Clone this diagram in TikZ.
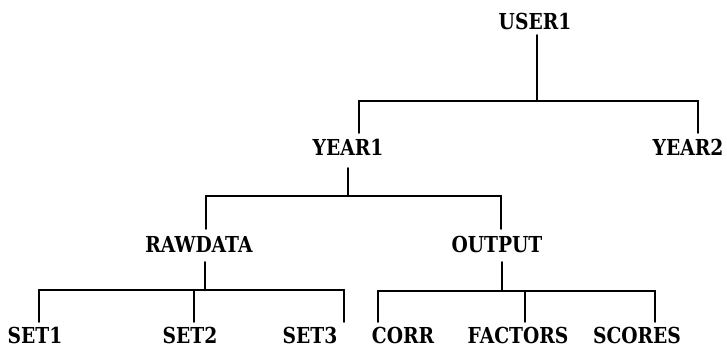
\documentclass[tikz,border=0pt]{standalone}
\usepackage{fontspec}
\newfontfamily\prtfont{DejaVu Serif}
\newcommand{\lbltext}[1]{\scalebox{0.85}[1.0]{#1}}
\begin{document}
\begin{tikzpicture}[x=1pt,y=-1pt,
  lbl/.style={font=\prtfont\bfseries\fontsize{22}{22}\selectfont, inner sep=0pt, text height=16pt, text depth=0pt, anchor=center},
  conn/.style={line width=2.3pt, line cap=round}]
\useasboundingbox (0,0) rectangle (727,350);
% labels
\node[lbl] (user1) at (535,22) {\lbltext{USER1}};
\node[lbl] (year1) at (348,147) {\lbltext{YEAR1}};
\node[lbl] (year2) at (688,147) {\lbltext{YEAR2}};
\node[lbl] (rawdata) at (199,244) {\lbltext{RAWDATA}};
\node[lbl] (output) at (497,244) {\lbltext{OUTPUT}};
\node[lbl] (set1) at (35,335) {\lbltext{SET1}};
\node[lbl] (set2) at (190,335) {\lbltext{SET2}};
\node[lbl] (set3) at (310,335) {\lbltext{SET3}};
\node[lbl] (corr) at (403,335) {\lbltext{CORR}};
\node[lbl] (factors) at (518,335) {\lbltext{FACTORS}};
\node[lbl] (scores) at (637,335) {\lbltext{SCORES}};
% bus coordinates
\coordinate (h1l) at (359,101); \coordinate (h1m) at (537,101); \coordinate (h1r) at (698,101);
\coordinate (h2l) at (206,196); \coordinate (h2m) at (348,196); \coordinate (h2r) at (501,196);
\coordinate (h3l) at (39,290); \coordinate (h3m) at (205,290); \coordinate (h3c) at (194,290); \coordinate (h3r) at (344,290);
\coordinate (h4l) at (378,291); \coordinate (h4m) at (502,291); \coordinate (h4c) at (525,291); \coordinate (h4r) at (655,291);
% level 1
\draw[conn] ([yshift=-5pt]user1.south -| h1m) -- (h1m);
\draw[conn] (h1l) -- (h1r);
\draw[conn] (h1l) -- ([yshift=6pt]h1l |- year1.north);
\draw[conn] (h1r) -- ([yshift=6pt]h1r |- year2.north);
% level 2
\draw[conn] ([yshift=-13pt]year1.south -| h2m) -- (h2m);
\draw[conn] (h2l) -- (h2r);
\draw[conn] (h2l) -- ([yshift=7pt]h2l |- rawdata.north);
\draw[conn] (h2r) -- ([yshift=7pt]h2r |- output.north);
% level 3 left
\draw[conn] ([yshift=-10pt]rawdata.south -| h3m) -- (h3m);
\draw[conn] (h3l) -- (h3r);
\draw[conn] (h3l) -- ([yshift=5pt]h3l |- set1.north);
\draw[conn] (h3c) -- ([yshift=5pt]h3c |- set2.north);
\draw[conn] (h3r) -- ([yshift=5pt]h3r |- set3.north);
% level 3 right
\draw[conn] ([yshift=-10pt]output.south -| h4m) -- (h4m);
\draw[conn] (h4l) -- (h4r);
\draw[conn] (h4l) -- ([yshift=5pt]h4l |- corr.north);
\draw[conn] (h4c) -- ([yshift=5pt]h4c |- factors.north);
\draw[conn] (h4r) -- ([yshift=5pt]h4r |- scores.north);
\end{tikzpicture}
\end{document}
